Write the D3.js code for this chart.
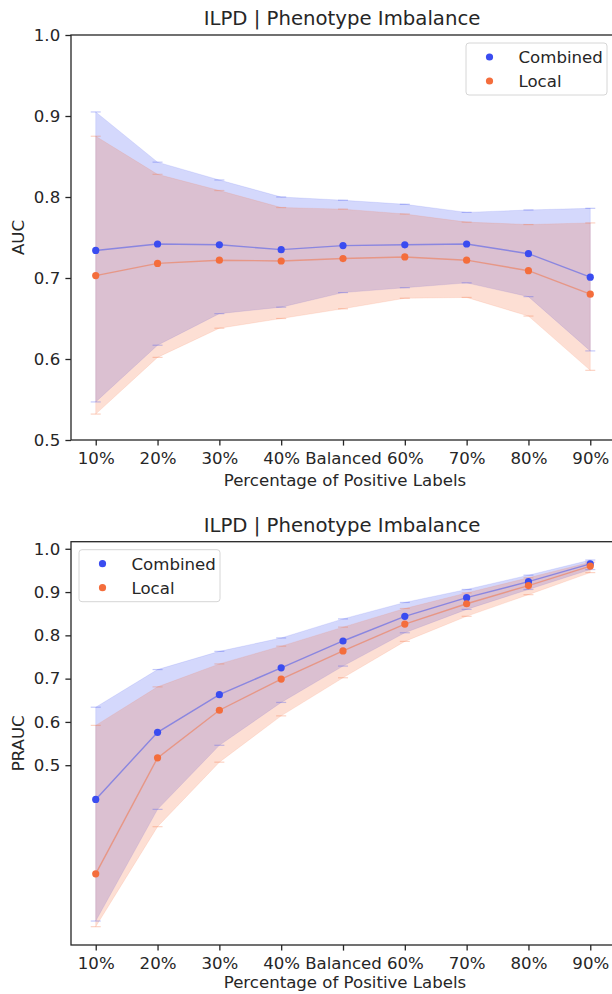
<!DOCTYPE html>
<html>
<head>
<meta charset="utf-8">
<script src="https://cdn.jsdelivr.net/npm/d3@7"></script>
<style>
  body { margin: 0; background: #fff; }
  text { font-family: "DejaVu Sans", sans-serif; fill: #262626; }
</style>
</head>
<body>
<svg id="chart" width="612" height="994"></svg>
<script>
// x categories (share of positive labels)
const categories = ["10%", "20%", "30%", "40%", "Balanced", "60%", "70%", "80%", "90%"];

// AUC panel
const aucCombined   = [0.734, 0.742, 0.741, 0.735, 0.740, 0.741, 0.742, 0.730, 0.701];
const aucCombinedLo = [0.547, 0.617, 0.656, 0.664, 0.682, 0.688, 0.694, 0.677, 0.610];
const aucCombinedHi = [0.905, 0.843, 0.821, 0.800, 0.796, 0.791, 0.781, 0.784, 0.786];
const aucLocal      = [0.703, 0.718, 0.722, 0.721, 0.724, 0.726, 0.722, 0.709, 0.680];
const aucLocalLo    = [0.532, 0.602, 0.638, 0.650, 0.662, 0.675, 0.676, 0.653, 0.586];
const aucLocalHi    = [0.875, 0.828, 0.808, 0.787, 0.785, 0.779, 0.769, 0.766, 0.768];

// PRAUC panel
const prCombined   = [0.421, 0.576, 0.663, 0.725, 0.787, 0.844, 0.887, 0.924, 0.965];
const prCombinedLo = [0.140, 0.398, 0.546, 0.645, 0.729, 0.806, 0.860, 0.906, 0.952];
const prCombinedHi = [0.634, 0.721, 0.763, 0.794, 0.838, 0.876, 0.906, 0.939, 0.974];
const prLocal      = [0.249, 0.517, 0.627, 0.699, 0.764, 0.826, 0.873, 0.915, 0.960];
const prLocalLo    = [0.127, 0.358, 0.507, 0.614, 0.702, 0.786, 0.844, 0.894, 0.945];
const prLocalHi    = [0.592, 0.681, 0.734, 0.775, 0.819, 0.862, 0.898, 0.933, 0.969];

const yTicks = [0.5, 0.6, 0.7, 0.8, 0.9, 1.0];
const seriesNames = ["Combined", "Local"];

const blue = "#3a4cf0", orange = "#f46d3c";
const ink = "#262626";
const fs = "16.6px";

const svg = d3.select("#chart");

const x = d3.scalePoint()
    .domain(categories)
    .range([71, 615])
    .padding(0.4);

function panel(opt) {
  const g = svg.append("g");
  const y = d3.scaleLinear().domain(opt.domain).range([opt.bottom, opt.top]);
  const idx = d3.range(categories.length);

  const series = [
    {name: "Combined", color: blue,   mean: opt.combined, lo: opt.combinedLo, hi: opt.combinedHi},
    {name: "Local",    color: orange, mean: opt.local,    lo: opt.localLo,    hi: opt.localHi}
  ];

  const area = s => d3.area()
      .x(i => x(categories[i]))
      .y0(i => y(s.lo[i]))
      .y1(i => y(s.hi[i]))(idx);

  const line = s => d3.line()
      .x(i => x(categories[i]))
      .y(i => y(s.mean[i]))(idx);

  // confidence bands
  series.forEach(s => {
    g.append("path")
        .attr("d", area(s))
        .attr("fill", s.color)
        .attr("fill-opacity", 0.22)
        .attr("stroke", s.color)
        .attr("stroke-opacity", 0.12)
        .attr("stroke-width", 1);
  });

  // caps on the band ends
  series.forEach(s => {
    g.append("g").selectAll("line")
      .data(idx.flatMap(i => [[i, s.lo[i]], [i, s.hi[i]]]))
      .join("line")
        .attr("x1", d => x(categories[d[0]]) - 5)
        .attr("x2", d => x(categories[d[0]]) + 5)
        .attr("y1", d => y(d[1]))
        .attr("y2", d => y(d[1]))
        .attr("stroke", s.color)
        .attr("stroke-opacity", 0.3)
        .attr("stroke-width", 1.2);
  });

  series.forEach(s => {
    g.append("path")
        .attr("d", line(s))
        .attr("fill", "none")
        .attr("stroke", s.color)
        .attr("stroke-opacity", 0.5)
        .attr("stroke-width", 1.4);
  });

  series.forEach(s => {
    g.append("g").selectAll("circle")
      .data(idx)
      .join("circle")
        .attr("cx", i => x(categories[i]))
        .attr("cy", i => y(s.mean[i]))
        .attr("r", 3.6)
        .attr("fill", s.color);
  });

  // axes
  const yAxis = g.append("g")
      .attr("transform", "translate(71,0)")
      .call(d3.axisLeft(y).tickValues(yTicks).tickFormat(d3.format(".1f"))
        .tickSize(5.6).tickPadding(5.2));
  const xAxis = g.append("g")
      .attr("transform", `translate(0,${opt.bottom})`)
      .call(d3.axisBottom(x).tickSize(5.6).tickPadding(6.5));
  [yAxis, xAxis].forEach(a => {
    a.select(".domain").remove();
    a.selectAll("line").attr("stroke", ink).attr("stroke-width", 1.3);
    a.selectAll("text").style("font-size", fs).attr("fill", ink);
  });

  g.append("rect")
      .attr("x", 71).attr("y", opt.top)
      .attr("width", 615 - 71).attr("height", opt.bottom - opt.top)
      .attr("fill", "none")
      .attr("stroke", ink)
      .attr("stroke-width", 1.3);

  g.append("text")
      .attr("x", (71 + 615) / 2 - 1)
      .attr("y", opt.top - 9.6)
      .attr("text-anchor", "middle")
      .style("font-size", "19.7px")
      .text("ILPD | Phenotype Imbalance");

  g.append("text")
      .attr("x", 345)
      .attr("y", opt.bottom + opt.xlabelGap)
      .attr("text-anchor", "middle")
      .style("font-size", fs)
      .text("Percentage of Positive Labels");

  g.append("text")
      .attr("transform", `translate(24,${(opt.top + opt.bottom) / 2}) rotate(-90)`)
      .attr("text-anchor", "middle")
      .style("font-size", fs)
      .text(opt.ylabel);

  // legend
  const lg = g.append("g").attr("transform", `translate(${opt.legendX},${opt.top + 8})`);
  lg.append("rect")
      .attr("width", 141).attr("height", 52)
      .attr("rx", 3)
      .attr("fill", "#fff").attr("fill-opacity", 0.8)
      .attr("stroke", "#d6d6d6").attr("stroke-width", 1);
  series.forEach((s, k) => {
    lg.append("circle")
        .attr("cx", 23.5).attr("cy", 14 + k * 24)
        .attr("r", 3.6)
        .attr("fill", s.color);
    lg.append("text")
        .attr("x", 52.5).attr("y", 14 + k * 24)
        .attr("dy", "0.36em")
        .style("font-size", fs)
        .text(seriesNames[k]);
  });
}

panel({
  top: 35, bottom: 440, domain: [0.5, 1.0], ylabel: "AUC", legendX: 466, xlabelGap: 46,
  combined: aucCombined, combinedLo: aucCombinedLo, combinedHi: aucCombinedHi,
  local: aucLocal, localLo: aucLocalLo, localHi: aucLocalHi
});

// second panel: limits padded 5% around the band extent
const prExt = d3.extent(prCombinedLo.concat(prCombinedHi, prLocalLo, prLocalHi));
const prPad = (prExt[1] - prExt[0]) * 0.05;

panel({
  top: 541.7, bottom: 945, domain: [prExt[0] - prPad, prExt[1] + prPad], ylabel: "PRAUC", legendX: 79, xlabelGap: 43,
  combined: prCombined, combinedLo: prCombinedLo, combinedHi: prCombinedHi,
  local: prLocal, localLo: prLocalLo, localHi: prLocalHi
});
</script>
</body>
</html>
